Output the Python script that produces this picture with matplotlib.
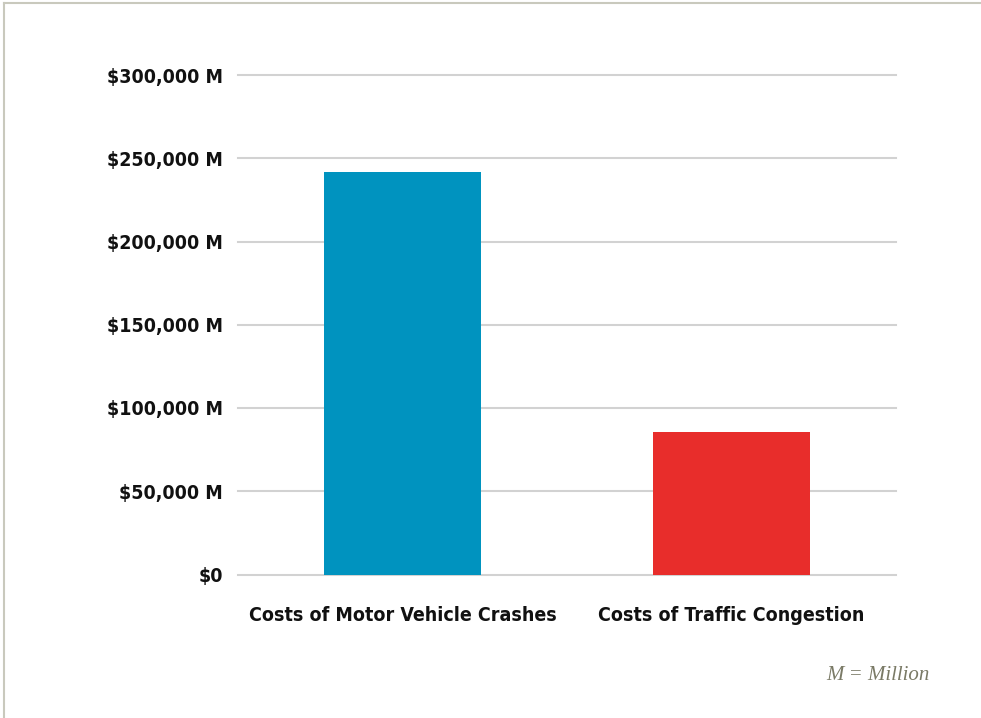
import matplotlib
matplotlib.use("Agg")
import matplotlib.pyplot as plt
from matplotlib.lines import Line2D
from matplotlib.ticker import FuncFormatter

categories = ["Costs of Motor Vehicle Crashes", "Costs of Traffic Congestion"]
values = [241800, 85800]
colors = ["#0093bf", "#e82d2b"]
yticks = [0, 50000, 100000, 150000, 200000, 250000, 300000]

fig = plt.figure(figsize=(9.81, 7.18), dpi=100)
ax = fig.add_axes([238/981, 1-574.5/718, (896-238)/981, (574.5-75)/718])

x = list(range(len(categories)))
ax.bar(x, values, width=0.48, color=colors, zorder=3)
ax.set_xlim(-0.5, 1.5)
ax.set_ylim(0, 300000)
ax.set_yticks(yticks)
ax.yaxis.set_major_formatter(FuncFormatter(lambda v, p: "$0" if v == 0 else f"${int(v):,} M"))
ax.set_xticks(x)
ax.set_xticklabels(categories)
for s in ax.spines.values():
    s.set_visible(False)
ax.tick_params(axis="both", length=0)
ax.tick_params(axis="y", pad=11)
ax.tick_params(axis="x", pad=23)
for lab in ax.get_yticklabels() + ax.get_xticklabels():
    lab.set_fontfamily("DejaVu Sans")
    lab.set_fontstretch("condensed")
    lab.set_fontweight("bold")
    lab.set_color("#111111")
for lab in ax.get_yticklabels():
    lab.set_fontsize(14)
for lab in ax.get_xticklabels():
    lab.set_fontsize(14)
ax.yaxis.grid(True, color="#d2d2d2", linewidth=1.5, zorder=0)
for gl in ax.get_ygridlines():
    gl.set_clip_on(False)

fig.text(930/981, 1-676/718, "M = Million", ha="right", va="center",
         fontfamily="Liberation Serif", fontstyle="italic", fontsize=15, color="#7a7a66")

fig.add_artist(Line2D([4/981, 4/981], [0, 1-3/718], transform=fig.transFigure, color="#c9c9bd", linewidth=1.5))
fig.add_artist(Line2D([4/981, 1], [1-3/718, 1-3/718], transform=fig.transFigure, color="#c9c9bd", linewidth=1.5))

fig.savefig("out.png", dpi=100)
